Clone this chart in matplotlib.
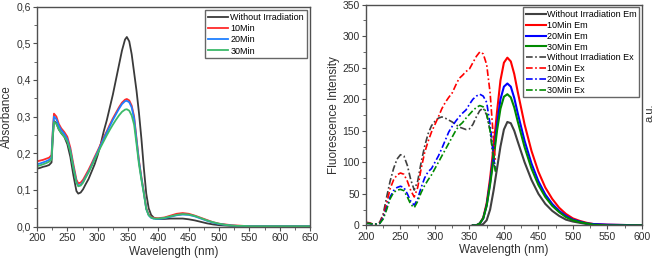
import matplotlib
matplotlib.use('Agg')
import matplotlib.pyplot as plt
from matplotlib.ticker import MultipleLocator, FuncFormatter

plt.rcParams['font.family'] = ['Liberation Sans', 'DejaVu Sans']

# ---- absorbance (left panel)
abs_wl = [200, 205, 210, 215, 220, 224, 226, 228, 232, 236, 240, 245, 250, 255, 260, 265, 268, 272, 276,
          280, 285, 290, 295, 300, 305, 310, 315, 320, 325, 330, 335, 340, 345, 348, 352, 356, 360, 364,
          368, 372, 376, 380, 384, 388, 392, 396, 400, 410, 420, 430, 440, 450, 460, 470, 480, 490, 500,
          510, 520, 530, 540, 550, 575, 600, 650]
abs_labels = ['Without Irradiation', '10Min', '20Min', '30Min']
abs_none = [.158, .160, .163, .165, .168, .175, .24, .288, .282, .265, .255, .245, .225, .19, .14, .097, .09,
            .093, .102, .115, .13, .15, .17, .195, .225, .26, .29, .325, .36, .40, .44, .48, .51, .517, .505,
            .47, .42, .37, .31, .24, .16, .09, .05, .032, .025, .022, .021, .021, .022, .022, .022, .02, .017,
            .013, .009, .006, .004, .003, .002, .001, .001, .001, .001, .001, .001]
abs_10 = [.178, .180, .182, .185, .188, .195, .26, .308, .30, .28, .268, .258, .245, .215, .17, .128, .118,
          .12, .128, .14, .155, .172, .19, .207, .225, .243, .26, .278, .295, .31, .325, .338, .346, .348, .344,
          .33, .30, .24, .18, .135, .095, .05, .033, .026, .024, .023, .023, .025, .03, .035, .037, .035, .03,
          .024, .018, .012, .008, .006, .004, .003, .002, .001, .001, .001, .001]
abs_20 = [.170, .172, .175, .178, .182, .188, .255, .300, .293, .275, .263, .253, .238, .208, .163, .122, .112,
          .114, .122, .135, .15, .167, .186, .204, .222, .24, .257, .274, .291, .306, .321, .334, .342, .343,
          .339, .325, .295, .235, .177, .132, .092, .048, .031, .024, .022, .021, .021, .023, .027, .031, .033,
          .032, .028, .022, .016, .011, .007, .005, .003, .002, .002, .001, .001, .001, .001]
abs_30 = [.165, .167, .170, .173, .177, .183, .245, .285, .28, .265, .255, .245, .232, .205, .16, .12, .11,
          .112, .12, .133, .148, .165, .183, .2, .217, .233, .249, .264, .278, .291, .303, .313, .319, .320,
          .316, .303, .278, .225, .17, .128, .09, .048, .031, .025, .022, .022, .022, .024, .028, .032, .034,
          .033, .029, .023, .017, .012, .008, .005, .003, .002, .002, .001, .001, .001, .001]

# ---- fluorescence (right panel)
em_wl = [355, 360, 365, 370, 375, 380, 385, 390, 395, 400, 405, 410, 415, 420, 430, 440, 450, 460, 470,
         480, 490, 500, 510, 520, 530, 550, 600]
em_none = [0, 0, 0, 2, 8, 25, 55, 90, 125, 152, 164, 162, 150, 133, 100, 72, 50, 34, 23, 15, 9, 6, 4, 2, 1, 0, 0]
em_10 = [0, 0, 3, 12, 35, 75, 125, 180, 230, 258, 266, 260, 240, 212, 160, 118, 85, 60, 42, 28, 18, 11, 7, 4, 2, 1, 0]
em_20 = [0, 0, 3, 11, 32, 68, 112, 160, 200, 220, 225, 220, 202, 178, 134, 98, 70, 49, 34, 23, 15, 9, 6, 3, 2, 1, 0]
em_30 = [0, 0, 3, 11, 31, 65, 105, 150, 185, 204, 208, 203, 187, 165, 124, 90, 64, 45, 31, 21, 13, 8, 5, 3, 1, 0, 0]

ex_wl = [200, 205, 210, 215, 220, 225, 230, 235, 240, 245, 250, 255, 260, 265, 270, 275, 280, 285, 290, 295,
         300, 305, 310, 315, 320, 325, 330, 335, 340, 345, 350, 355, 360, 365, 370, 375, 380, 383, 386, 388]
ex_none = [4, 3, 2, 2, 5, 18, 45, 70, 90, 105, 112, 110, 95, 72, 56, 70, 100, 125, 145, 158, 165, 170, 172,
           170, 167, 164, 160, 156, 154, 152, 153, 160, 172, 182, 186, 175, 150, 120, 95, 85]
ex_10 = [5, 4, 2, 2, 4, 15, 35, 58, 72, 80, 83, 81, 70, 55, 45, 60, 90, 115, 133, 148, 160, 172, 185, 195,
         203, 210, 222, 233, 238, 244, 248, 258, 268, 275, 272, 255, 210, 165, 120, 100]
ex_20 = [3, 3, 2, 2, 3, 12, 28, 45, 55, 60, 62, 60, 50, 38, 32, 42, 60, 75, 85, 90, 100, 110, 122, 135, 148,
         157, 165, 172, 178, 183, 192, 200, 205, 208, 205, 195, 160, 130, 100, 92]
ex_30 = [3, 3, 2, 2, 3, 10, 25, 42, 52, 56, 57, 55, 45, 33, 28, 38, 52, 63, 72, 80, 90, 100, 110, 120, 130,
         140, 150, 158, 163, 170, 176, 182, 187, 190, 188, 178, 150, 125, 100, 85]

txt = '#303030'
spine = '#505050'

fig = plt.figure(figsize=(6.6, 2.62), dpi=100)
ax1 = fig.add_axes([0.056, 0.135, 0.414, 0.840])
ax2 = fig.add_axes([0.5545, 0.140, 0.418, 0.842])

left_cols = ['#3a3a3a', '#ff2a2a', '#1f7fff', '#3cba6a']
for ys, c, lab in zip([abs_none, abs_10, abs_20, abs_30], left_cols, abs_labels):
    ax1.plot(abs_wl, ys, color=c, lw=1.3, label=lab)
ax1.set_xlim(200, 650)
ax1.set_ylim(0, 0.6)
ax1.xaxis.set_major_locator(MultipleLocator(50))
ax1.xaxis.set_minor_locator(MultipleLocator(25))
ax1.yaxis.set_major_locator(MultipleLocator(0.1))
ax1.yaxis.set_minor_locator(MultipleLocator(0.05))
ax1.yaxis.set_major_formatter(FuncFormatter(lambda v, p: ('%.1f' % v).replace('.', ',')))
ax1.set_xlabel('Wavelength (nm)', fontsize=8.5, color=txt, labelpad=2)
ax1.set_ylabel('Absorbance', fontsize=8.5, color=txt, labelpad=2)
leg1 = ax1.legend(loc='upper right', fontsize=6.5, frameon=True, fancybox=False, handlelength=2.3,
                  handletextpad=0.2, labelspacing=0.25, borderpad=0.3, borderaxespad=0.4)
leg1.get_frame().set_edgecolor('#404040')
leg1.get_frame().set_linewidth(1.0)

em_cols = ['#404040', '#ff0000', '#0000ff', '#008a00']
em_labels = ['Without Irradiation Em', '10Min Em', '20Min Em', '30Min Em']
ex_labels = ['Without Irradiation Ex', '10Min Ex', '20Min Ex', '30Min Ex']
for ys, c, lab in zip([em_none, em_10, em_20, em_30], em_cols, em_labels):
    ax2.plot(em_wl, ys, color=c, lw=1.5, label=lab)
for ys, c, lab in zip([ex_none, ex_10, ex_20, ex_30], em_cols, ex_labels):
    ax2.plot(ex_wl, ys, color=c, lw=1.2, ls=(0, (4, 1.5, 1, 1.5)), label=lab)
ax2.set_xlim(200, 600)
ax2.set_ylim(0, 350)
ax2.xaxis.set_major_locator(MultipleLocator(50))
ax2.xaxis.set_minor_locator(MultipleLocator(25))
ax2.yaxis.set_major_locator(MultipleLocator(50))
ax2.yaxis.set_minor_locator(MultipleLocator(25))
ax2.set_xlabel('Wavelength (nm)', fontsize=8.5, color=txt, labelpad=2)
ax2.set_ylabel('Fluorescence Intensity', fontsize=8.5, color=txt, labelpad=2)
leg2 = ax2.legend(loc='upper right', fontsize=6.5, frameon=True, fancybox=False, handlelength=2.2,
                  handletextpad=0.1, labelspacing=0.2, borderpad=0.3, borderaxespad=0.3)
leg2.get_frame().set_edgecolor('#404040')
leg2.get_frame().set_linewidth(1.0)
fig.text(0.992, 0.57, 'a.u.', rotation=90, fontsize=8, color=txt, ha='right', va='center')

for ax in (ax1, ax2):
    for s in ax.spines.values():
        s.set_color(spine)
        s.set_linewidth(1.0)
    ax.tick_params(which='both', direction='out', colors=spine, labelcolor=txt, labelsize=7.5, pad=1.5)
    ax.tick_params(which='major', length=3)
    ax.tick_params(which='minor', length=2)

fig.savefig('out.png', dpi=100)
